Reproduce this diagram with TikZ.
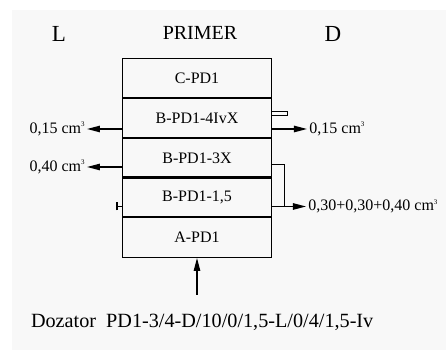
\documentclass[tikz,border=0pt]{standalone}
\usepackage{fontspec}
\setmainfont{Liberation Serif}
\usetikzlibrary{arrows.meta,positioning}
\definecolor{panel}{HTML}{F8F8F8}
% volume unit with a tiny superscript
\newcommand{\cmc}{cm\raisebox{0.9ex}{\fontsize{3.5}{4}\selectfont 3}}

\begin{document}
\begin{tikzpicture}[x=0.5pt,y=-0.5pt,
  row/.style={draw,line width=0.45pt,minimum width=74.3pt,minimum height=20pt,
    inner sep=0pt,font=\fontsize{8}{9.6}\selectfont},
  head/.style={font=\fontsize{10}{12}\selectfont},
  side/.style={font=\fontsize{11.5}{13}\selectfont},
  vol/.style={font=\fontsize{8}{9.6}\selectfont,inner sep=1pt},
  flow/.style={line width=0.7pt,-{Triangle[length=6.5pt,width=3.2pt]}}]
  \useasboundingbox (0,0) rectangle (446,351);
  \fill[panel] (12,10) rectangle (446,350);

  % Headings
  \node[side] (left)   at (59,34)  {L};
  \node[head] (primer) at (200,33) {PRIMER};
  \node[side] (right)  at (333,34) {D};

  % Stack of sections, top to bottom
  \node[row] (cpd) at (197,78)    {C-PD1};
  \node[row] (b4)  at (197,118)   {B-PD1-4IvX};
  \node[row] (b3)  at (197,158)   {B-PD1-3X};
  \node[row] (b15) at (197,197.5) {B-PD1-1,5};
  \node[row] (apd) at (197,237.5) {A-PD1};
  \foreach \n in {b4,b3,b15,apd}{
    \draw[line width=0.75pt] (\n.north west) -- (\n.north east);
  }

  % Outlets, left side
  \node[vol,anchor=east] (l15) at (87,129) {0,15 \cmc};
  \node[vol,anchor=east] (l40) at (87,167) {0,40 \cmc};
  \draw[flow] (l15.east -| b4.west) -- (l15.east);
  \draw[flow] (l40.east -| b3.west) -- (l40.east);

  % Outlets, right side
  \node[vol,anchor=west] (r15)  at (307,129)   {0,15 \cmc};
  \node[vol,anchor=west] (rsum) at (306,206.5) {0,30+0,30+0,40 \cmc};
  \draw[flow] (r15.west -| b4.east) -- (r15.west);
  \draw[flow] (rsum.west -| b15.east) -- (rsum.west);

  % Small port and bypass bracket
  \draw[line width=0.45pt] (271.3,111.7) rectangle (287,115.7);
  \coordinate (bypin)  at (271.3,165);
  \coordinate (bypout) at (285,206.5);
  \draw[line width=0.5pt] (bypin) -| (bypout);

  % Closed stub on the left
  \coordinate (stub) at (116,206.5);
  \draw[line width=0.8pt,-{Bar[width=4pt]}] (stub -| b15.west) -- (stub);

  % Feed from below
  \coordinate (feed) at (197,295);
  \draw[flow] (feed) -- (apd.south);

  % Caption
  \node[font=\fontsize{10.1}{12}\selectfont,anchor=west] (name) at (24,322)
    {Dozator\ \ PD1-3/4-D/10/0/1,5-L/0/4/1,5-Iv};
\end{tikzpicture}
\end{document}
